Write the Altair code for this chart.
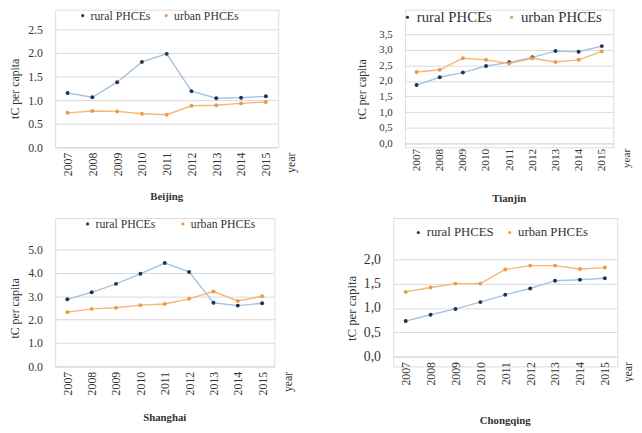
import altair as alt
import pandas as pd

years = ["2007", "2008", "2009", "2010", "2011", "2012", "2013", "2014", "2015"]

beijing_rural = [1.15, 1.06, 1.38, 1.81, 1.98, 1.19, 1.04, 1.05, 1.08]
beijing_urban = [0.73, 0.77, 0.76, 0.71, 0.69, 0.88, 0.89, 0.93, 0.96]

tianjin_rural = [1.87, 2.12, 2.27, 2.48, 2.60, 2.76, 2.96, 2.94, 3.12]
tianjin_urban = [2.29, 2.36, 2.73, 2.68, 2.56, 2.73, 2.61, 2.68, 2.95]

shanghai_rural = [2.87, 3.17, 3.53, 3.96, 4.42, 4.04, 2.72, 2.60, 2.70]
shanghai_urban = [2.32, 2.46, 2.51, 2.62, 2.67, 2.89, 3.20, 2.80, 3.00]

chongqing_rural = [0.73, 0.86, 0.98, 1.12, 1.27, 1.40, 1.56, 1.58, 1.61]
chongqing_urban = [1.33, 1.42, 1.50, 1.50, 1.79, 1.87, 1.87, 1.80, 1.83]

FONT = "Times New Roman"
RURAL_LINE = "#a7c3de"
URBAN_LINE = "#f5b778"
RURAL_PT = "#22324f"
URBAN_PT = "#ec9a45"
TXT = "#333333"


def make_df(city, rural_label, urban_label, rural, urban):
    rows = []
    for y, v in zip(years, rural):
        rows.append({"city": city, "series": rural_label, "kind": "rural", "year": y, "value": v})
    for y, v in zip(years, urban):
        rows.append({"city": city, "series": urban_label, "kind": "urban", "year": y, "value": v})
    return pd.DataFrame(rows)


def panel(city, rural_label, urban_label, rural, urban, w, h, y_bottom, y_top, ymax, ystep,
          comma, xsize, ysize, ytsize, legend_size, lx, ly, col_pad, title_offset,
          tit_pad, year_x):
    df = make_df(city, rural_label, urban_label, rural, urban)
    ticks = [round(i * ystep, 2) for i in range(int(round(ymax / ystep)) + 1)]
    label_expr = "replace(format(datum.value, '.1f'), '.', ',')" if comma else "format(datum.value, '.1f')"
    x = alt.X("year:O", scale=alt.Scale(type="point", padding=0.5),
              axis=alt.Axis(title="year", labelAngle=270, labelFont=FONT, labelFontSize=xsize,
                            labelColor=TXT, ticks=False, domainColor="#d9d9d9",
                            labelPadding=5, titleFont=FONT, titleFontWeight="normal",
                            titleFontSize=xsize, titleColor=TXT, titleAngle=270,
                            titleX=year_x, titleY=5, titleAlign="right", titleBaseline="middle",
                            offset=y_bottom - h))
    y = alt.Y("value:Q", scale=alt.Scale(domain=[0, ymax], nice=False, zero=True,
                                         range=[y_bottom, y_top]),
              axis=alt.Axis(title="tC per capita", values=ticks, labelExpr=label_expr,
                            labelFont=FONT, labelFontSize=ysize, labelColor=TXT,
                            domain=False, ticks=False, gridColor="#d9d9d9", labelPadding=13,
                            titleFont=FONT, titleFontWeight="normal", titleFontSize=ytsize,
                            titleColor=TXT, titlePadding=tit_pad,
                            titleY=(y_bottom + y_top) / 2))
    base = alt.Chart(df)
    line_r = base.transform_filter(alt.datum.kind == "rural").mark_line(
        color=RURAL_LINE, strokeWidth=1.4).encode(x=x, y=y)
    line_u = base.transform_filter(alt.datum.kind == "urban").mark_line(
        color=URBAN_LINE, strokeWidth=1.4).encode(x=x, y=y)
    pts = base.mark_circle(size=16, opacity=1).encode(
        x=x, y=y,
        color=alt.Color("series:N",
                        scale=alt.Scale(domain=[rural_label, urban_label], range=[RURAL_PT, URBAN_PT]),
                        sort=[rural_label, urban_label],
                        legend=alt.Legend(title=None, orient="none", legendX=lx, legendY=ly,
                                          direction="horizontal",
                                          symbolType="circle", symbolSize=10, symbolOffset=0,
                                          labelOffset=2,
                                          labelFont=FONT, labelFontSize=legend_size,
                                          labelColor=TXT, columnPadding=col_pad)))
    return alt.layer(line_r, line_u, pts).properties(
        width=w, height=h,
        title=alt.TitleParams(city, orient="bottom", font=FONT, fontWeight="bold",
                              fontSize=11, color=TXT, offset=title_offset))


# row 1
beijing = panel("Beijing", "rural PHCEs", "urban PHCEs", beijing_rural, beijing_urban,
                227, 140, 140, 20, 2.5, 0.5, False, 12, 12, 12, 12, 22, 0, 10, 16, 6, 240)
tianjin = panel("Tianjin", "rural PHCEs", "urban PHCEs", tianjin_rural, tianjin_urban,
                212, 140, 136, 25, 3.5, 0.5, True, 11.5, 11, 12, 15, -5, 0, 12, 23, 10, 225)
# row 2
shanghai = panel("Shanghai", "rural PHCEs", "urban PHCEs", shanghai_rural, shanghai_urban,
                 223, 151, 151, 32, 5.0, 1.0, False, 12, 12, 12, 12, 27, 0, 22, 18, 6, 236)
chongqing = panel("Chongqing", "rural PHCES", "urban PHCEs", chongqing_rural, chongqing_urban,
                  228, 151, 141, 42, 2.0, 0.5, True, 12, 14, 13, 13, 19, 8, 9, 31, 5, 238)

chart = alt.vconcat(
    alt.hconcat(beijing, tianjin, spacing=58).resolve_scale(color="independent"),
    alt.hconcat(shanghai, chongqing, spacing=52).resolve_scale(color="independent"),
    spacing=12,
).resolve_scale(color="independent").configure_view(stroke=None).configure(
    background="white", padding={"left": 0, "top": -3, "right": 0, "bottom": 0}, font=FONT)

chart.save("out.html", embed_options={"renderer": "svg", "actions": False})
